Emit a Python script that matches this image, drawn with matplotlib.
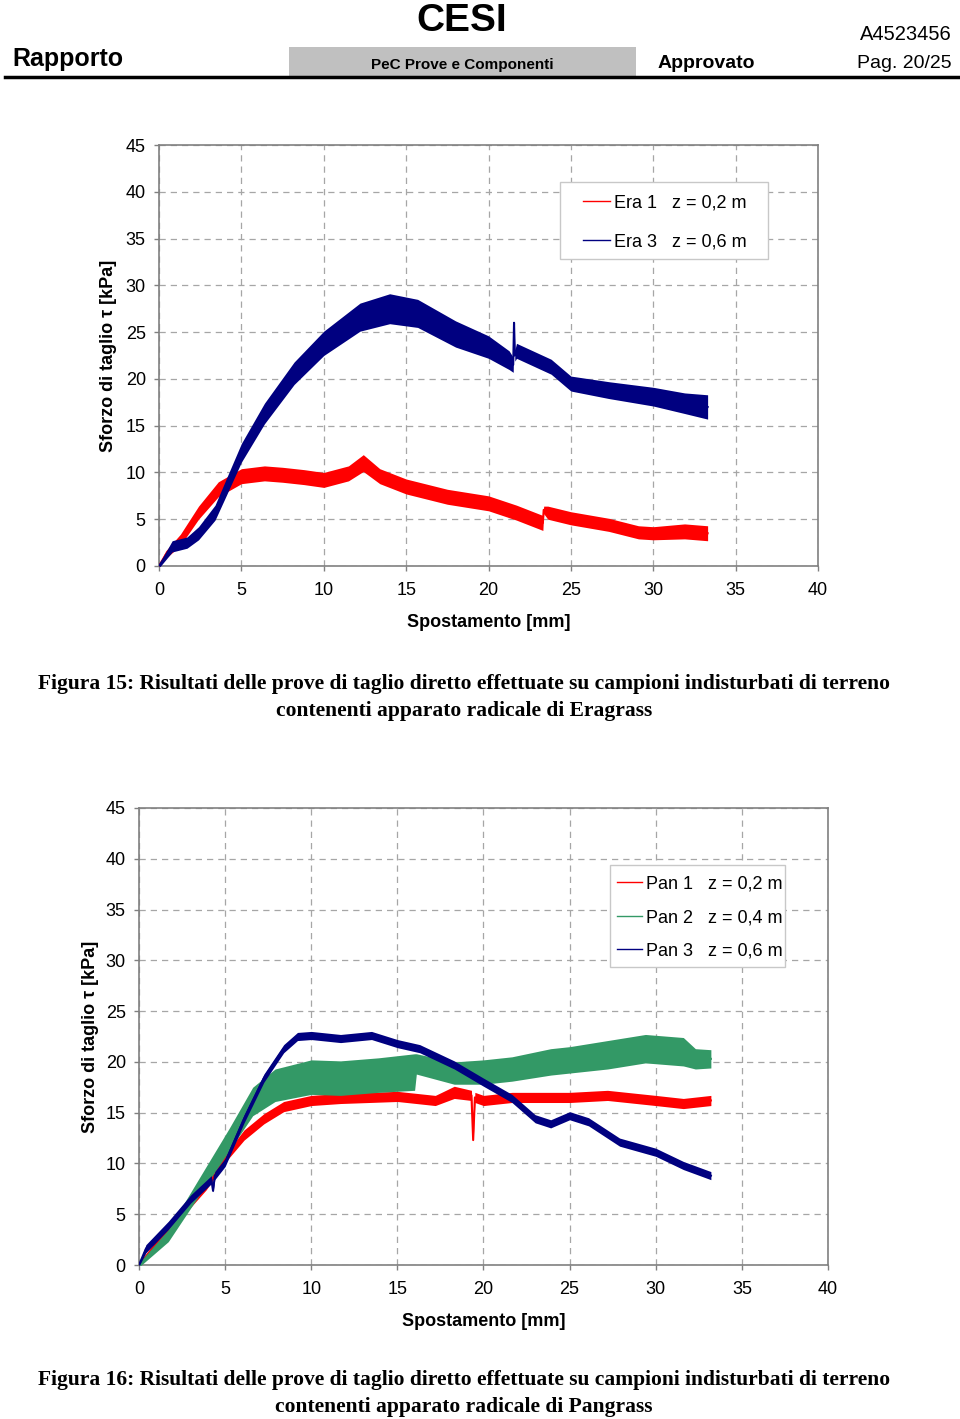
import numpy as np
import matplotlib
matplotlib.use('Agg')
import matplotlib.pyplot as plt
from matplotlib.patches import Rectangle
from matplotlib.lines import Line2D

plt.rcParams['font.family'] = ['Liberation Sans', 'DejaVu Sans']

# ---- Figura 15 (Eragrass) ----
era1_x = [0, 0.4, 1.3, 2.4, 3.6, 5.0, 6.4, 7.5, 8.8, 10.0, 11.5, 12.4, 13.4, 15.0, 17.5,
          20.0, 21.7, 23.3, 23.35, 23.6, 25.0, 27.3, 29.1, 30.0, 31.9, 33.3]
era1_y = [0, 1.2, 2.8, 5.7, 8.2, 9.6, 9.9, 9.75, 9.5, 9.2, 9.9, 11.0, 9.6, 8.5, 7.4,
          6.7, 5.7, 4.6, 6.0, 5.7, 5.1, 4.4, 3.6, 3.5, 3.7, 3.5]
era1_w = [0.1, 0.4, 0.6, 0.7, 0.8, 0.8, 0.8, 0.8, 0.8, 0.8, 0.8, 0.9, 0.8, 0.8, 0.8,
          0.8, 0.8, 0.8, 0.4, 0.7, 0.7, 0.7, 0.7, 0.7, 0.8, 0.8]

era3_x = [0, 0.8, 1.7, 2.4, 3.4, 4.1, 5.0, 6.4, 8.2, 10.0, 12.2, 14.0, 15.7, 18.0, 20.0,
          21.25, 21.5, 21.55, 21.6, 21.7, 23.8, 25.0, 27.3, 30.0, 31.9, 33.3]
era3_y = [0, 2.1, 2.5, 3.5, 5.7, 8.5, 12.1, 16.3, 20.6, 23.8, 26.6, 27.5, 27.0, 24.8, 23.4,
          22.0, 21.5, 26.0, 22.5, 23.0, 21.3, 19.5, 18.8, 18.1, 17.4, 17.0]
era3_w = [0.2, 0.6, 0.6, 0.7, 0.8, 0.9, 1.0, 1.1, 1.2, 1.3, 1.5, 1.6, 1.5, 1.4, 1.2,
          1.0, 0.8, 0.1, 0.6, 0.8, 0.8, 0.8, 0.9, 1.0, 1.1, 1.3]

# ---- Figura 16 (Pangrass) ----
pan1_x = [0, 1.7, 3.9, 5.0, 6.1, 7.25, 8.4, 10.0, 11.7, 15.0, 17.2, 18.3, 19.3, 19.4,
          19.5, 20.0, 21.65, 25.0, 27.2, 30.0, 31.6, 33.2]
pan1_y = [0, 3.6, 7.8, 10.5, 12.8, 14.4, 15.6, 16.2, 16.4, 16.6, 16.2, 17.0, 16.7, 12.3,
          16.5, 16.2, 16.5, 16.5, 16.7, 16.2, 15.9, 16.2]
pan1_w = [0.1, 0.4, 0.4, 0.4, 0.5, 0.5, 0.5, 0.5, 0.5, 0.5, 0.5, 0.6, 0.5, 0.1,
          0.5, 0.5, 0.5, 0.5, 0.5, 0.5, 0.5, 0.5]

pan2_x = [0, 1.7, 3.9, 5.25, 6.6, 7.9, 10.0, 11.7, 13.9, 16.0, 16.1, 18.3, 20.0, 21.65,
          23.9, 25.0, 27.2, 29.4, 31.6, 32.3, 33.2]
pan2_y = [0, 2.9, 8.8, 12.4, 16.1, 17.7, 18.5, 18.4, 18.7, 19.0, 19.8, 18.9, 19.0, 19.3,
          20.0, 20.2, 20.7, 21.3, 21.0, 20.3, 20.3]
pan2_w = [0.2, 0.6, 0.9, 1.1, 1.4, 1.6, 1.7, 1.7, 1.7, 1.8, 1.0, 1.1, 1.2, 1.2,
          1.3, 1.3, 1.4, 1.4, 1.4, 1.0, 0.9]

pan3_x = [0, 0.4, 1.7, 3.0, 4.2, 4.3, 4.4, 5.0, 6.1, 7.25, 8.4, 9.2, 10.0, 11.7, 13.5,
          15.0, 16.3, 18.3, 20.0, 21.65, 23.0, 23.9, 25.0, 26.1, 27.9, 30.0, 31.6, 33.2]
pan3_y = [0, 1.6, 3.9, 6.5, 8.4, 7.3, 8.8, 10.1, 14.4, 18.4, 21.3, 22.5, 22.6, 22.3, 22.6,
          21.8, 21.3, 19.7, 18.0, 16.4, 14.4, 13.9, 14.7, 14.1, 12.1, 11.1, 9.8, 8.8]
pan3_w = [0.1, 0.4, 0.4, 0.4, 0.4, 0.1, 0.4, 0.4, 0.4, 0.4, 0.4, 0.4, 0.4, 0.4, 0.4,
          0.4, 0.4, 0.4, 0.4, 0.4, 0.4, 0.4, 0.4, 0.4, 0.4, 0.4, 0.4, 0.4]

ticks_x = [0, 5, 10, 15, 20, 25, 30, 35, 40]
ticks_y = [0, 5, 10, 15, 20, 25, 30, 35, 40, 45]

RED = '#ff0000'
NAVY = '#000080'
GREEN = '#339966'
GRID = '#a6a6a6'
SPINE = '#808080'

W, H = 960, 1419


def draw_band(ax, x, y, w, color, z):
    x = np.array(x)
    y = np.array(y)
    w = np.array(w)
    ax.fill_between(x, y - w, y + w, color=color, lw=0, zorder=z)
    ax.plot(x, y, color=color, lw=1.5, zorder=z)


def setup_axes(ax, ypad):
    ax.set_xlim(0, 40)
    ax.set_ylim(0, 45)
    ax.set_xticks(ticks_x)
    ax.set_yticks(ticks_y)
    ax.grid(True, color=GRID, ls=(0, (5, 4)), lw=0.9)
    ax.set_axisbelow(True)
    for s in ax.spines.values():
        s.set_color(SPINE)
        s.set_linewidth(1.2)
    ax.tick_params(colors=SPINE, labelcolor='black', length=3.5, width=1, labelsize=13)
    ax.tick_params(axis='y', pad=6)
    ax.tick_params(axis='x', pad=8)
    ax.set_xlabel('Spostamento [mm]', fontsize=13, fontweight='bold', labelpad=11)
    ax.set_ylabel('Sforzo di taglio \u03c4 [kPa]', fontsize=13, fontweight='bold', labelpad=ypad)


def legend_box(ax, x0, y0, x1, y1):
    # frame of the legend, in page pixels, drawn under the legend entries
    r = Rectangle((x0 / W, 1 - y1 / H), (x1 - x0) / W, (y1 - y0) / H,
                  transform=fig.transFigure, facecolor='white', edgecolor='#c8c8c8',
                  lw=1, zorder=6, clip_on=False)
    ax.add_artist(r)


fig = plt.figure(figsize=(9.6, 14.19), dpi=100)

# header
fig.text(462 / W, 1 - 3 / H, 'CESI', ha='center', va='top', fontsize=28, fontweight='bold',
         family=['Liberation Sans Narrow', 'Liberation Sans'])
fig.text(12 / W, 1 - 59 / H, 'Rapporto', ha='left', va='center', fontsize=18,
         fontweight='bold')
fig.patches.append(Rectangle((289 / W, 1 - 76 / H), 347 / W, 29 / H,
                             transform=fig.transFigure, color='#c0c0c0', lw=0))
fig.text(462 / W, 1 - 65 / H, 'PeC Prove e Componenti', ha='center', va='center',
         fontsize=11, fontweight='bold')
fig.text(658 / W, 1 - 63 / H, 'Approvato', ha='left', va='center', fontsize=14,
         fontweight='bold')
fig.text(952 / W, 1 - 34 / H, 'A4523456', ha='right', va='center', fontsize=14.5)
fig.text(952 / W, 1 - 63 / H, 'Pag. 20/25', ha='right', va='center', fontsize=14)
fig.lines.append(Line2D([5 / W, 958 / W], [1 - 77 / H, 1 - 77 / H],
                        transform=fig.transFigure, color='black', lw=2.5))

# chart 1
ax1 = fig.add_axes([159 / W, 1 - 566 / H, 659 / W, 421 / H])
setup_axes(ax1, 6)
draw_band(ax1, era1_x, era1_y, era1_w, RED, 3)
draw_band(ax1, era3_x, era3_y, era3_w, NAVY, 4)
legend_box(ax1, 560, 182, 768, 259)
h1 = [Line2D([], [], color=RED, lw=1), Line2D([], [], color=NAVY, lw=1)]
leg1 = ax1.legend(h1, ['Era 1   z = 0,2 m', 'Era 3   z = 0,6 m'], loc='upper left',
                  bbox_to_anchor=((583 - 159) / 659, (566 - 194.5) / 421), fontsize=13,
                  frameon=False, labelspacing=1.2, handlelength=1.5, handletextpad=0.22,
                  borderpad=0, borderaxespad=0)
leg1.set_zorder(8)

fig.text(464 / W, 1 - 684 / H,
         'Figura 15: Risultati delle prove di taglio diretto effettuate su campioni indisturbati di terreno',
         ha='center', va='center', fontsize=15.5, fontweight='bold', family='Liberation Serif')
fig.text(464 / W, 1 - 711 / H, 'contenenti apparato radicale di Eragrass',
         ha='center', va='center', fontsize=15.5, fontweight='bold', family='Liberation Serif')

# chart 2
ax2 = fig.add_axes([139 / W, 1 - 1265 / H, 689 / W, 457 / H])
setup_axes(ax2, 5)
draw_band(ax2, pan1_x, pan1_y, pan1_w, RED, 3)
draw_band(ax2, pan2_x, pan2_y, pan2_w, GREEN, 4)
draw_band(ax2, pan3_x, pan3_y, pan3_w, NAVY, 5)
legend_box(ax2, 610, 865, 785, 967)
h2 = [Line2D([], [], color=RED, lw=1), Line2D([], [], color=GREEN, lw=1),
      Line2D([], [], color=NAVY, lw=1)]
leg2 = ax2.legend(h2, ['Pan 1   z = 0,2 m', 'Pan 2   z = 0,4 m', 'Pan 3   z = 0,6 m'],
                  loc='upper left', bbox_to_anchor=((617 - 139) / 689, (1265 - 875.5) / 457),
                  fontsize=13, frameon=False, labelspacing=0.92, handlelength=1.4,
                  handletextpad=0.22, borderpad=0, borderaxespad=0)
leg2.set_zorder(8)

fig.text(464 / W, 1 - 1380 / H,
         'Figura 16: Risultati delle prove di taglio diretto effettuate su campioni indisturbati di terreno',
         ha='center', va='center', fontsize=15.5, fontweight='bold', family='Liberation Serif')
fig.text(464 / W, 1 - 1407 / H, 'contenenti apparato radicale di Pangrass',
         ha='center', va='center', fontsize=15.5, fontweight='bold', family='Liberation Serif')

fig.savefig('out.png', dpi=100)
